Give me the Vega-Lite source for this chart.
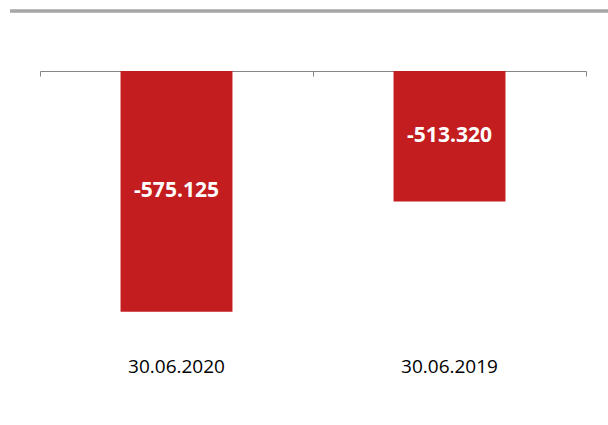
{
  "$schema": "https://vega.github.io/schema/vega-lite/v6.json",
  "width": 598,
  "height": 345,
  "autosize": {"type": "none"},
  "padding": {"left": 10, "top": 11, "right": 0, "bottom": 69},
  "background": "#ffffff",
  "config": {
    "view": {"stroke": null},
    "font": "Open Sans"
  },
  "data": {"values": [
    {"date": "30.06.2020", "value": -575125, "label": "-575.125"},
    {"date": "30.06.2019", "value": -513320, "label": "-513.320"}
  ]},
  "layer": [
    {
      "mark": {"type": "rule", "color": "#a6a6a6", "strokeWidth": 3},
      "encoding": {
        "x": {"datum": 0, "type": "quantitative", "scale": {"domain": [0, 1], "nice": false, "zero": false}, "axis": null},
        "x2": {"datum": 1},
        "y": {"datum": -406300, "type": "quantitative", "scale": {"domain": [-600000, -406300], "nice": false, "zero": false}, "axis": null}
      }
    },
    {
      "mark": {"type": "bar", "color": "#c31d1f"},
      "encoding": {
        "x": {"field": "date", "type": "nominal", "sort": null,
          "scale": {"range": [30, 576], "paddingInner": 0.59, "paddingOuter": 0.295},
          "axis": {"orient": "bottom", "domain": false, "ticks": false, "tickSize": 0, "labelPadding": 10, "labelBaseline": "middle", "labelFontSize": 19, "labelFont": "Open Sans", "labelColor": "#000000", "labelAngle": 0, "title": null, "grid": false}},
        "y": {"field": "value", "type": "quantitative",
          "scale": {"domain": [-600000, -406300], "nice": false, "zero": false}, "axis": null},
        "y2": {"datum": -440000}
      }
    },
    {
      "mark": {"type": "text", "color": "#ffffff", "fontWeight": "bold", "fontSize": 21, "font": "Open Sans", "baseline": "middle", "align": "center"},
      "encoding": {
        "x": {"field": "date", "type": "nominal", "sort": null,
          "scale": {"range": [30, 576], "paddingInner": 0, "paddingOuter": 0},
          "axis": {"orient": "bottom", "offset": -285, "labels": false, "title": null, "domainColor": "#868686", "tickColor": "#868686", "tickSize": 5, "tickBand": "extent", "grid": false}},
        "y": {"field": "value", "type": "quantitative",
          "scale": {"domain": [-760000, -372600], "nice": false, "zero": false}, "axis": null},
        "text": {"field": "label", "type": "nominal"}
      }
    }
  ],
  "resolve": {"scale": {"x": "independent", "y": "independent"}, "axis": {"x": "independent"}}
}
